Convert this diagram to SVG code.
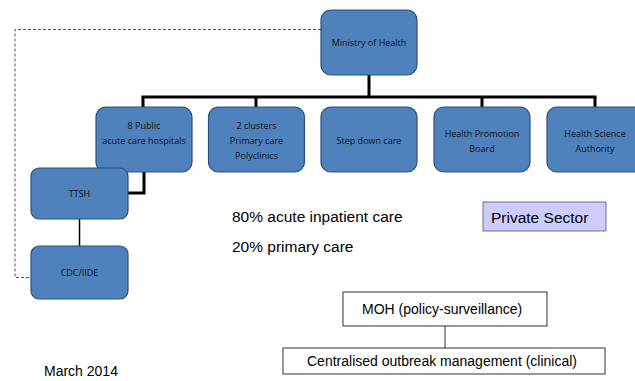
<svg xmlns="http://www.w3.org/2000/svg" width="635" height="381" viewBox="0 0 635 381">
<style>
.node rect{fill:#4f81bd;stroke:#2f4f7a;stroke-width:1.2}
.node text{font-family:"Open Sans","Liberation Sans",sans-serif;font-size:9px;fill:#111;text-anchor:middle}
.thick{stroke:#000;stroke-width:3;fill:none}
.thin{stroke:#000;stroke-width:1.5;fill:none}
.dash{stroke:#555;stroke-width:1;stroke-dasharray:3,2;fill:none}
.big{font-family:"Liberation Sans",Arial,sans-serif;font-size:15.5px;fill:#000}
.med{font-family:"Liberation Sans",Arial,sans-serif;font-size:14px;fill:#000}
.wbox{fill:#fff;stroke:#000;stroke-width:0.8}
</style>
<rect width="635" height="381" fill="#fff"/>
<g id="connectors">
<polyline class="dash" points="321,29.5 15,29.5 15,277.5 31,277.5"/>
<line class="thick" x1="369" y1="75" x2="369" y2="97"/>
<line class="thick" x1="141.5" y1="97" x2="596.5" y2="97"/>
<line class="thick" x1="143" y1="97" x2="143" y2="107"/>
<line class="thick" x1="256" y1="97" x2="256" y2="107"/>
<line class="thick" x1="482" y1="97" x2="482" y2="107"/>
<line class="thick" x1="595" y1="97" x2="595" y2="107"/>
<polyline class="thick" points="144,172 144,193 128,193"/>
<line class="thin" x1="79.5" y1="219" x2="79.5" y2="246"/>
<line stroke="#000" stroke-width="0.8" x1="445" y1="326" x2="445" y2="348"/>
</g>
<g id="moh" class="node"><rect x="321" y="10" width="96" height="65" rx="10"/><text x="369" y="46">Ministry of Health</text></g>
<g id="hospitals" class="node"><rect x="96" y="107" width="96" height="65" rx="10"/><text x="144" y="129">8 Public</text><text x="144" y="144">acute care hospitals</text></g>
<g id="clusters" class="node"><rect x="208.5" y="107" width="96" height="65" rx="10"/><text x="256.5" y="129">2 clusters</text><text x="256.5" y="144">Primary care</text><text x="256.5" y="159">Polyclinics</text></g>
<g id="stepdown" class="node"><rect x="321" y="107" width="96" height="65" rx="10"/><text x="369" y="144">Step down care</text></g>
<g id="hpb" class="node"><rect x="434" y="107" width="96" height="65" rx="10"/><text x="482" y="137">Health Promotion</text><text x="482" y="152">Board</text></g>
<g id="hsa" class="node"><rect x="547" y="107" width="96" height="65" rx="10"/><text x="595" y="137">Health Science</text><text x="595" y="152">Authority</text></g>
<g id="ttsh" class="node"><rect x="31" y="168" width="97" height="51" rx="8"/><text x="79.5" y="197">TTSH</text></g>
<g id="cdc" class="node"><rect x="31" y="246" width="97" height="53" rx="8"/><text x="79.5" y="276">CDC/IIDE</text></g>
<text class="big" x="232" y="222">80% acute inpatient care</text>
<text class="big" x="232" y="252">20% primary care</text>
<g id="private"><rect x="483" y="202" width="123" height="29" fill="#ccccff" stroke="#555" stroke-width="0.8"/><text class="big" x="491" y="223">Private Sector</text></g>
<g id="mohpolicy"><rect class="wbox" x="343" y="292" width="204" height="34"/><text class="med" x="362" y="314">MOH (policy-surveillance)</text></g>
<g id="central"><rect class="wbox" x="283" y="348" width="322" height="26"/><text class="med" x="307" y="366">Centralised outbreak management (clinical)</text></g>
<text class="med" x="44" y="376">March 2014</text>
</svg>
